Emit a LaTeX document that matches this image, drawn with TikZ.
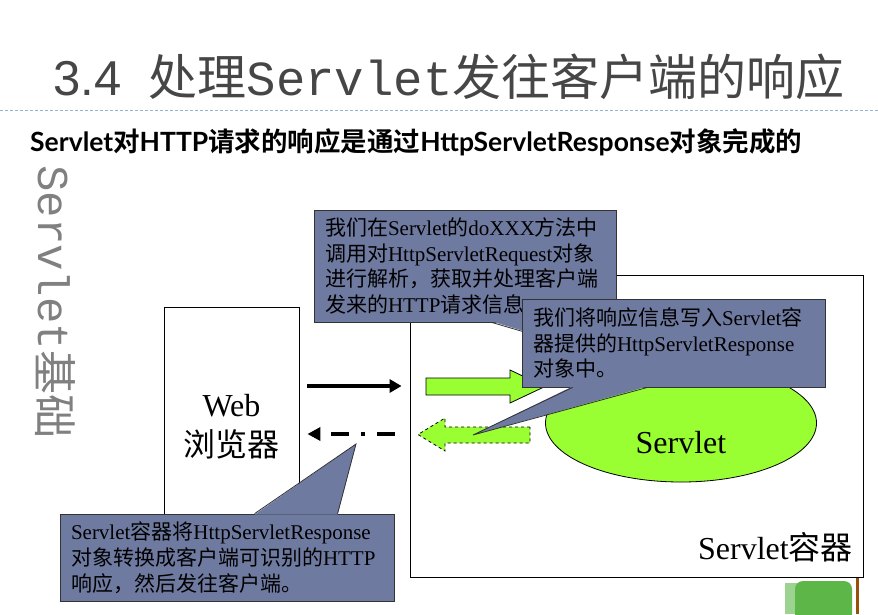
\documentclass[tikz,border=0pt]{standalone}
\usepackage{fontspec}
\setmainfont{Liberation Serif}
\newfontfamily\cjk{Noto Sans CJK SC}
\newfontfamily\cjkbold{Noto Sans CJK SC Bold}
\newfontfamily\codefont{Liberation Mono}
\newfontfamily\headsans{Liberation Sans}
\newfontfamily\subsans{Lato}
\usetikzlibrary{shapes.geometric,arrows.meta,calc}

\definecolor{callblue}{RGB}{111,122,160}
\definecolor{limegreen}{RGB}{153,255,51}
\definecolor{sepblue}{RGB}{150,180,215}
\definecolor{titlegray}{RGB}{70,70,70}
\definecolor{decogreen}{RGB}{92,182,72}
\definecolor{decobrown}{RGB}{150,80,10}

\newcommand{\zh}[1]{{\cjk #1}}
\newcommand{\zhb}[1]{{\cjkbold #1}}
\newcommand{\lb}[1]{{\subsans\bfseries #1}}

\begin{document}
\begin{tikzpicture}[x=1pt,y=-1pt,
  every node/.style={inner sep=0pt},
  bigtext/.style={font=\fontsize{32}{40}\selectfont, align=center},
  box/.style={draw, fill=white, line width=0.8pt},
  callout/.style={draw=black!80, fill=callblue, line width=0.8pt,
    inner xsep=11pt, align=left, font=\fontsize{21}{25.8}\selectfont},
  calledge/.style={draw=black!80, line width=0.8pt, line join=miter},
  greenarrow/.style={draw, fill=limegreen, line width=0.8pt},
  reqarrow/.style={line width=3.5pt, -{Triangle[length=12pt,width=13pt]}},
  resparrow/.style={line width=3.5pt, dash pattern=on 18pt off 12pt on 4pt off 12pt,
    -{Triangle[length=13pt,width=13pt]}}]
 \fill[white] (0,0) rectangle (878,614);
 \useasboundingbox (0,0) rectangle (878,614);

 % heading
 \node[text=titlegray, font=\fontsize{49}{51}\selectfont] (title) at (449,77)
   {{\headsans 3.4}\hspace{0.55em}\zh{处理}{\codefont Servlet}\zh{发往客户端的响应}};
 \draw[sepblue, line width=1pt, dash pattern=on 3pt off 2pt] (0,110) -- (878,110);
 \node[anchor=west, font=\fontsize{26.5}{28}\selectfont] (subtitle) at (30,142)
   {\lb{Servlet}\zhb{对}\lb{HTTP}\zhb{请求的响应是通过}\lb{HttpServletResponse}\zhb{对象完成的}};
 \node[rotate=-90, anchor=west, text=black!50, font=\fontsize{44}{46}\selectfont] (side) at (55,165)
   {{\codefont Servlet}\zh{基础}};

 % browser and container
 \node[box, minimum width=135, minimum height=253] (web) at (231.5,433.5) {};
 \node[bigtext] (weblbl) at (231.5,427) {Web\\\zh{浏览器}};
 \node[box, minimum width=453, minimum height=302] (cont) at (636.5,426) {};
 \node[bigtext, anchor=east] (contlbl) at (853,547) {Servlet\zh{容器}};
 \node[draw, fill=limegreen, line width=0.8pt, ellipse, minimum width=271, minimum height=118] (servlet) at (681,423) {};
 \node[bigtext] (servletlbl) at (681,443) {Servlet};

 % request and response
 \draw[greenarrow] (426,378) -- (510,378) -- (510,370) -- (545,386.5) -- (510,403) -- (510,395) -- (426,395) -- cycle;
 \draw[greenarrow, dashed] (530,427) -- (445,427) -- (445,418) -- (418,434.5) -- (445,451) -- (445,443) -- (530,443) -- cycle;
 \coordinate (yreq) at (0,386);
 \coordinate (yresp) at (0,434);
 \draw[reqarrow, shorten <=8pt, shorten >=8pt] (web.east |- yreq) -- (cont.west |- yreq);
 \draw[resparrow, shorten <=15pt, shorten >=8pt] (cont.west |- yresp) -- (web.east |- yresp);

 % callouts
 \coordinate (t1) at (620,360);
 \coordinate (t2) at (473,435);
 \coordinate (t3) at (356,444);
 \node[callout, text width=280, minimum width=302, minimum height=112] (c1) at (465,266)
   {\zh{我们在}Servlet\zh{的}doXXX\zh{方法中}\\\zh{调用对}HttpServletRequest\zh{对象}\\
    \zh{进行解析，获取并处理客户端}\\\zh{发来的}HTTP\zh{请求信息}};
 \fill[callblue] ($(c1.south west)+(178,-1)$) -- (t1) -- ($(c1.south west)+(246,-1)$) -- cycle;
 \draw[calledge] ($(c1.south west)+(178,0)$) -- (t1) -- ($(c1.south west)+(246,0)$);
 \node[callout, text width=281, minimum width=303, minimum height=88] (c2) at (673.5,343)
   {\zh{我们将响应信息写入}Servlet\zh{容}\\\zh{器提供的}HttpServletResponse\\\zh{对象中。}};
 \fill[callblue] ($(c2.south west)+(51,-1)$) -- (t2) -- ($(c2.south west)+(126,-1)$) -- cycle;
 \draw[calledge] ($(c2.south west)+(51,0)$) -- (t2) -- ($(c2.south west)+(126,0)$);
 \node[callout, text width=312, minimum width=334, minimum height=87] (c3) at (227,557.5)
   {Servlet\zh{容器将}HttpServletResponse\\\zh{对象转换成客户端可识别的}HTTP\\\zh{响应，然后发往客户端。}};
 \fill[callblue] ($(c3.north west)+(195,1)$) -- (t3) -- ($(c3.north west)+(278,1)$) -- cycle;
 \draw[calledge] ($(c3.north west)+(195,0)$) -- (t3) -- ($(c3.north west)+(278,0)$);

 % corner
 \fill[decogreen!60] (785,583) rectangle (800,614);
 \fill[decogreen, rounded corners=8pt] (795,581) rectangle (852,622);
 \draw[decobrown, line width=3pt] (857,578) -- (857,614);
\end{tikzpicture}
\end{document}
